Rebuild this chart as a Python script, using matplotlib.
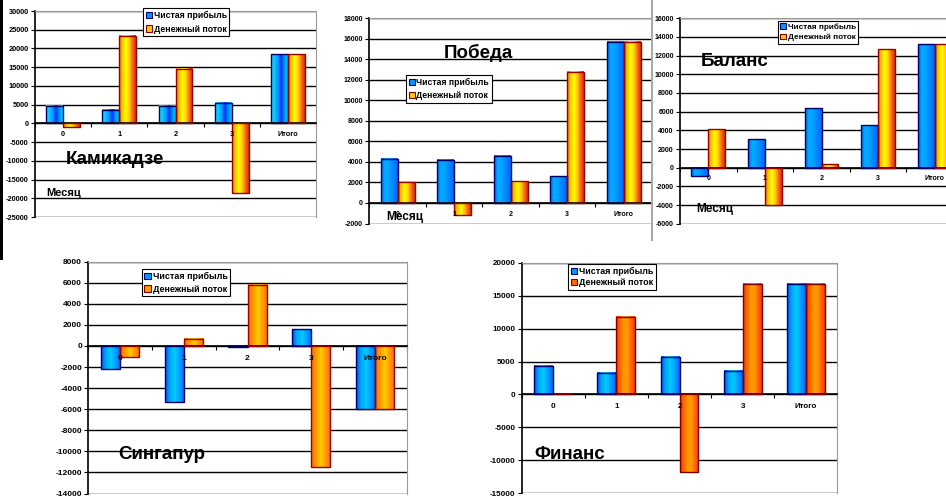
import numpy as np
import matplotlib
matplotlib.use("Agg")
import matplotlib.pyplot as plt
from matplotlib.colors import LinearSegmentedColormap
from matplotlib.patches import Patch, Rectangle
from matplotlib.transforms import offset_copy

plt.rcParams["font.family"] = ["Liberation Sans", "DejaVu Sans"]
plt.rcParams["font.weight"] = "bold"

categories = ["0", "1", "2", "3", "Итого"]
series_names = ["Чистая прибыль", "Денежный поток"]

kamikadze_profit = [4700, 3600, 4700, 5400, 18400]
kamikadze_cash = [-1000, 23400, 14600, -18600, 18400]
pobeda_profit = [4300, 4200, 4600, 2600, 15700]
pobeda_cash = [2000, -1200, 2100, 12800, 15700]
balans_profit = [-900, 3100, 6400, 4600, 13200]
balans_cash = [4100, -4000, 400, 12700, 13200]
singapur_profit = [-2200, -5300, -100, 1600, -6000]
singapur_cash = [-1000, 700, 5800, -11500, -6000]
finans_profit = [4300, 3300, 5700, 3500, 16800]
finans_cash = [0, 11800, -11800, 16800, 16800]

W, H = 946, 498
fig = plt.figure(figsize=(W / 100, H / 100), dpi=100, facecolor="white")

BLUE_A = ["#33CCFF", "#00CCFF", "#0099FF", "#0033FF", "#0099FF", "#00CCFF"]
BLUE_B = ["#0066FF", "#00B0FF", "#00A0FF", "#0080FF", "#0066FF"]
BLUE_C = ["#0050FF", "#00AAFF", "#00CCFF", "#0099FF", "#0066FF"]
ORANGE_A = ["#FF6600", "#FFCC00", "#FFFF00", "#FFCC00", "#FF6600", "#CC3300"]
ORANGE_B = ["#FF6600", "#FF9900", "#FFCC00", "#FF9900", "#FF6600"]
ORANGE_C = ["#FF3300", "#FF6600", "#FF9900", "#FF9900", "#FF6600", "#FF3300"]


def fx(x):
    return x / W


def fy(y):
    return 1 - y / H


def px_axes(x0, y0, x1, y1):
    return fig.add_axes([fx(x0), fy(y1), (x1 - x0) / W, (y1 - y0) / H])


def grad_bars(ax, x, vals, colors, edge):
    bars = ax.bar(x, vals, width=0.3, facecolor="none", edgecolor=edge, linewidth=1.0, zorder=3)
    cmap = LinearSegmentedColormap.from_list("g", colors)
    grad = np.linspace(0, 1, 100).reshape(1, -1)
    for b in bars:
        x0, y0, w, h = b.get_x(), b.get_y(), b.get_width(), b.get_height()
        if h == 0:
            continue
        ax.imshow(grad, cmap=cmap, extent=[x0, x0 + w, min(y0, y0 + h), max(y0, y0 + h)],
                  aspect="auto", interpolation="bilinear", zorder=2.5)


def panel(rect, profit, cash, ylim, step, blue, orange, edge_o, fs, lab_off,
          leg_xy, leg_fs, leg_colors, leg_spacing=0.35):
    ax = px_axes(*rect)
    x = np.arange(len(categories))
    grad_bars(ax, x - 0.15, profit, blue, "#000066")
    grad_bars(ax, x + 0.15, cash, orange, edge_o)
    ax.set_xlim(-0.5, len(categories) - 0.5)
    ax.set_ylim(*ylim)
    ticks = np.arange(ylim[0], ylim[1] + 1, step)
    ax.set_yticks(ticks)
    ax.set_yticklabels([str(int(t)) for t in ticks], fontsize=fs, fontweight="bold")
    ax.yaxis.grid(True, color="black", linewidth=1.0)
    ax.set_axisbelow(True)
    ax.spines["left"].set_color("black")
    ax.spines["left"].set_linewidth(1.2)
    ax.spines["bottom"].set_position(("data", 0))
    ax.spines["bottom"].set_color("black")
    ax.spines["bottom"].set_linewidth(1.2)
    for s in ("top", "right"):
        ax.spines[s].set_color("#999999")
    ax.tick_params(axis="y", length=3, width=0.8, pad=1.5)
    ax.set_xticks(np.arange(-0.5, len(categories), 1.0))
    ax.set_xticklabels([])
    ax.tick_params(axis="x", length=3, width=0.8, direction="out")
    tr = offset_copy(ax.transData, fig=fig, y=-lab_off, units="dots")
    for i, c in enumerate(categories):
        ax.text(i, 0, c, transform=tr, ha="center", va="center", fontsize=fs, fontweight="bold", zorder=4)
    handles = [Patch(facecolor=leg_colors[0], edgecolor="#000066", linewidth=0.8),
               Patch(facecolor=leg_colors[1], edgecolor="#800000", linewidth=0.8)]
    leg = ax.legend(handles, series_names, loc="upper left", bbox_to_anchor=(fx(leg_xy[0]), fy(leg_xy[1])),
                    bbox_transform=fig.transFigure, fancybox=False, edgecolor="black", framealpha=1,
                    handlelength=0.7, handleheight=0.7, handletextpad=0.2,
                    borderpad=0.3, labelspacing=leg_spacing, borderaxespad=0,
                    prop={"weight": "bold", "size": leg_fs})
    leg.get_frame().set_linewidth(0.8)
    leg.set_zorder(10)
    return ax


# left black strip of the slide
fig.patches.append(Rectangle((0, fy(260)), 3 / W, 260 / H, transform=fig.transFigure,
                             facecolor="black", edgecolor="none"))

# Камикадзе
panel((35, 11, 316, 217), kamikadze_profit, kamikadze_cash, (-25000, 30000), 5000,
      BLUE_A, ORANGE_A, "#990000", 5.3, 11, (143, 8), 6.3, ["#0099FF", "#FFCC00"], 0.55)
fig.text(fx(115), fy(159), "Камикадзе", ha="center", va="center", fontsize=13.5, fontweight="bold")
fig.text(fx(64), fy(193), "Месяц", ha="center", va="center", fontsize=8, fontweight="bold")

# Победа
panel((369.3, 18.3, 651.8, 223.5), pobeda_profit, pobeda_cash, (-2000, 18000), 2000,
      BLUE_B, ORANGE_A, "#990000", 5.0, 12, (406, 75), 6.2, ["#0099FF", "#FFCC00"], 0.55)
fig.text(fx(478), fy(53), "Победа", ha="center", va="center", fontsize=13.5, fontweight="bold")
fig.text(fx(405), fy(217), "Месяц", ha="center", va="center", fontsize=8.5, fontweight="bold")

# white chart area of Баланс covering the edge of Победа
bg = fig.add_axes([fx(652), fy(240), (W - 652) / W, 240 / H])
bg.set_xticks([])
bg.set_yticks([])
for s in ("top", "right", "bottom"):
    bg.spines[s].set_visible(False)
bg.spines["left"].set_color("#AAAAAA")
bg.spines["left"].set_linewidth(1.5)

# Баланс
panel((680, 18.3, 963, 223.7), balans_profit, balans_cash, (-6000, 16000), 2000,
      BLUE_B, ORANGE_A, "#990000", 5.0, 10.6, (778, 21), 5.9, ["#0099FF", "#FFCC00"], 0.3)
fig.text(fx(735), fy(61), "Баланс", ha="center", va="center", fontsize=13.5, fontweight="bold")
fig.text(fx(715), fy(209), "Месяц", ha="center", va="center", fontsize=8.5, fontweight="bold")

# Сингапур
panel((88.3, 261.7, 406.7, 493.5), singapur_profit, singapur_cash, (-14000, 8000), 2000,
      BLUE_C, ORANGE_B, "#990000", 6.0, 13, (141.7, 269.3), 6.5, ["#0099FF", "#FF9900"], 0.4)
fig.text(fx(162), fy(454), "Сингапур", ha="center", va="center", fontsize=13.5, fontweight="bold")

# Финанс
panel((521.7, 262.7, 837.3, 493.3), finans_profit, finans_cash, (-15000, 20000), 5000,
      BLUE_C, ORANGE_C, "#800000", 5.8, 12.4, (568.3, 264.3), 6.4, ["#0099FF", "#FF6600"], 0.25)
fig.text(fx(570), fy(454), "Финанс", ha="center", va="center", fontsize=13.5, fontweight="bold")

fig.savefig("out.png", dpi=100, facecolor="white")
